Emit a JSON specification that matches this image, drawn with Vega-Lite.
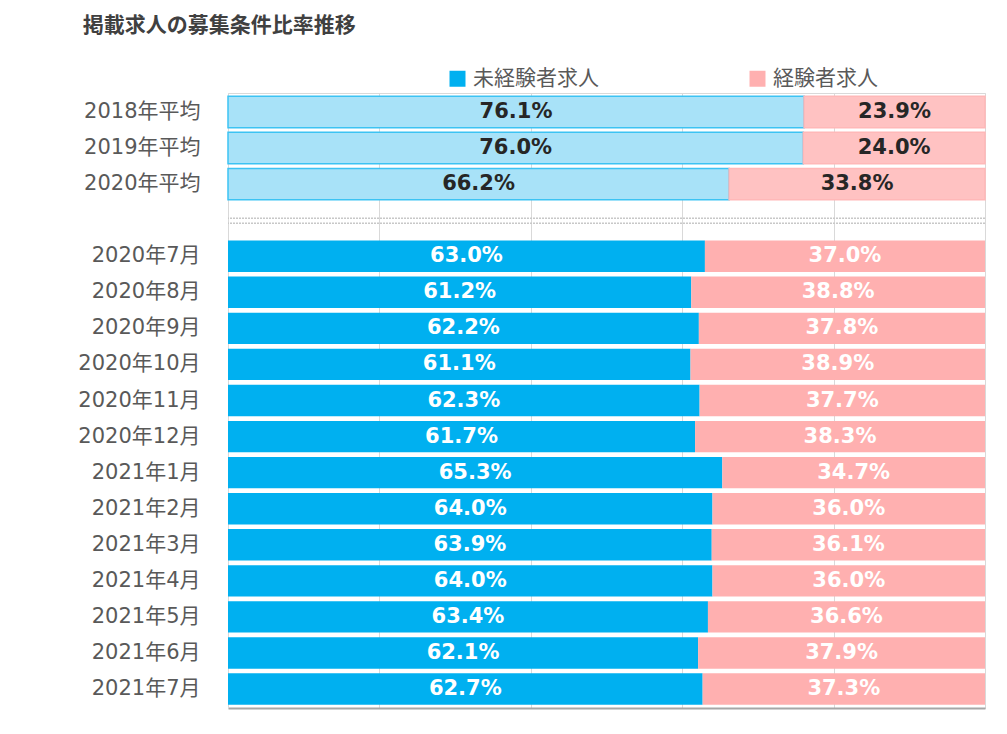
{
  "$schema": "https://vega.github.io/schema/vega-lite/v6.json",
  "width": 757,
  "height": 615,
  "autosize": {"type": "none"},
  "padding": {"left": 228, "top": 93, "right": 22, "bottom": 26},
  "background": "white",
  "title": {
    "text": "掲載求人の募集条件比率推移",
    "anchor": "start",
    "frame": "bounds",
    "fontSize": 21,
    "fontWeight": "bold",
    "color": "#404040",
    "font": "Noto Sans CJK JP",
    "offset": 32,
    "dx": 5
  },
  "config": {
    "font": "DejaVu Sans, Noto Sans CJK JP",
    "view": {"stroke": "#d9d9d9"},
    "legend": {"padding": 0}
  },
  "data": {
    "values": [
      {"period": "2018年平均", "type": "平均", "series": "未経験者求人", "value": 0.761},
      {"period": "2018年平均", "type": "平均", "series": "経験者求人", "value": 0.239},
      {"period": "2019年平均", "type": "平均", "series": "未経験者求人", "value": 0.760},
      {"period": "2019年平均", "type": "平均", "series": "経験者求人", "value": 0.240},
      {"period": "2020年平均", "type": "平均", "series": "未経験者求人", "value": 0.662},
      {"period": "2020年平均", "type": "平均", "series": "経験者求人", "value": 0.338},
      {"period": "2020年7月", "type": "月次", "series": "未経験者求人", "value": 0.630},
      {"period": "2020年7月", "type": "月次", "series": "経験者求人", "value": 0.370},
      {"period": "2020年8月", "type": "月次", "series": "未経験者求人", "value": 0.612},
      {"period": "2020年8月", "type": "月次", "series": "経験者求人", "value": 0.388},
      {"period": "2020年9月", "type": "月次", "series": "未経験者求人", "value": 0.622},
      {"period": "2020年9月", "type": "月次", "series": "経験者求人", "value": 0.378},
      {"period": "2020年10月", "type": "月次", "series": "未経験者求人", "value": 0.611},
      {"period": "2020年10月", "type": "月次", "series": "経験者求人", "value": 0.389},
      {"period": "2020年11月", "type": "月次", "series": "未経験者求人", "value": 0.623},
      {"period": "2020年11月", "type": "月次", "series": "経験者求人", "value": 0.377},
      {"period": "2020年12月", "type": "月次", "series": "未経験者求人", "value": 0.617},
      {"period": "2020年12月", "type": "月次", "series": "経験者求人", "value": 0.383},
      {"period": "2021年1月", "type": "月次", "series": "未経験者求人", "value": 0.653},
      {"period": "2021年1月", "type": "月次", "series": "経験者求人", "value": 0.347},
      {"period": "2021年2月", "type": "月次", "series": "未経験者求人", "value": 0.640},
      {"period": "2021年2月", "type": "月次", "series": "経験者求人", "value": 0.360},
      {"period": "2021年3月", "type": "月次", "series": "未経験者求人", "value": 0.639},
      {"period": "2021年3月", "type": "月次", "series": "経験者求人", "value": 0.361},
      {"period": "2021年4月", "type": "月次", "series": "未経験者求人", "value": 0.640},
      {"period": "2021年4月", "type": "月次", "series": "経験者求人", "value": 0.360},
      {"period": "2021年5月", "type": "月次", "series": "未経験者求人", "value": 0.634},
      {"period": "2021年5月", "type": "月次", "series": "経験者求人", "value": 0.366},
      {"period": "2021年6月", "type": "月次", "series": "未経験者求人", "value": 0.621},
      {"period": "2021年6月", "type": "月次", "series": "経験者求人", "value": 0.379},
      {"period": "2021年7月", "type": "月次", "series": "未経験者求人", "value": 0.627},
      {"period": "2021年7月", "type": "月次", "series": "経験者求人", "value": 0.373}
    ]
  },
  "layer": [
    {
      "transform": [{"filter": "datum.type === '月次'"}],
      "mark": {"type": "bar"},
      "encoding": {
        "y": {
          "field": "period", "type": "nominal",
          "scale": {
            "domain": ["2018年平均", "2019年平均", "2020年平均", " ", "2020年7月", "2020年8月", "2020年9月", "2020年10月", "2020年11月", "2020年12月", "2021年1月", "2021年2月", "2021年3月", "2021年4月", "2021年5月", "2021年6月", "2021年7月"],
            "paddingInner": 0.13, "paddingOuter": 0.09
          },
          "axis": {"title": null, "ticks": false, "labelPadding": 28, "labelFontSize": 21, "labelColor": "#595959", "domainColor": "#d9d9d9", "grid": false}
        },
        "x": {
          "field": "value", "type": "quantitative", "stack": "zero",
          "scale": {"domain": [0, 1], "nice": false, "clamp": true},
          "axis": {"title": null, "labels": false, "ticks": false, "grid": true, "gridColor": "#d9d9d9", "values": [0, 0.2, 0.4, 0.6, 0.8, 1], "domainColor": "#a6a6a6", "domainWidth": 2}
        },
        "color": {
          "field": "series", "type": "nominal",
          "scale": {"domain": ["未経験者求人", "経験者求人"], "range": ["#00B0F0", "#FFB0B0"]},
          "legend": {
            "title": null, "orient": "none", "direction": "horizontal",
            "legendX": 219, "legendY": -25,
            "symbolType": "square", "symbolSize": 256, "symbolStrokeWidth": 0,
            "labelFontSize": 21, "labelColor": "#595959", "labelFont": "Noto Sans CJK JP",
            "labelOffset": 5, "columnPadding": 148
          }
        },
        "order": {"field": "series", "sort": "ascending"}
      }
    },
    {
      "transform": [{"filter": "datum.type === '平均'"}],
      "mark": {"type": "bar", "strokeWidth": 1.5},
      "encoding": {
        "y": {"field": "period", "type": "nominal"},
        "x": {"field": "value", "type": "quantitative", "stack": "zero"},
        "color": {
          "field": "series", "type": "nominal",
          "scale": {"domain": ["未経験者求人", "経験者求人"], "range": ["#A8E2F8", "#FFC2C2"]},
          "legend": null
        },
        "stroke": {
          "field": "series", "type": "nominal",
          "scale": {"domain": ["未経験者求人", "経験者求人"], "range": ["#3CC3F3", "#FFB8B8"]},
          "legend": null
        },
        "order": {"field": "series", "sort": "ascending"}
      }
    },
    {
      "data": {"values": [{"period": " "}]},
      "mark": {"type": "rule", "color": "#c8c8c8", "strokeDash": [2, 1], "strokeWidth": 1.5, "yOffset": -2},
      "encoding": {"y": {"field": "period", "type": "nominal", "bandPosition": 0.5}}
    },
    {
      "data": {"values": [{"period": " "}]},
      "mark": {"type": "rule", "color": "#c8c8c8", "strokeDash": [2, 1], "strokeWidth": 1.5, "yOffset": 3},
      "encoding": {"y": {"field": "period", "type": "nominal", "bandPosition": 0.5}}
    },
    {
      "transform": [{"filter": "datum.type === '平均'"}],
      "mark": {"type": "text", "fontSize": 21, "fontWeight": "bold", "color": "#262626", "baseline": "middle"},
      "encoding": {
        "y": {"field": "period", "type": "nominal"},
        "x": {"field": "value", "type": "quantitative", "stack": "zero", "bandPosition": 0.5},
        "detail": {"field": "series"},
        "order": {"field": "series", "sort": "ascending"},
        "text": {"field": "value", "type": "quantitative", "format": ".1%"}
      }
    },
    {
      "transform": [{"filter": "datum.type === '月次'"}],
      "mark": {"type": "text", "fontSize": 21, "fontWeight": "bold", "color": "#ffffff", "baseline": "middle"},
      "encoding": {
        "y": {"field": "period", "type": "nominal"},
        "x": {"field": "value", "type": "quantitative", "stack": "zero", "bandPosition": 0.5},
        "detail": {"field": "series"},
        "order": {"field": "series", "sort": "ascending"},
        "text": {"field": "value", "type": "quantitative", "format": ".1%"}
      }
    }
  ],
  "resolve": {"scale": {"color": "independent", "stroke": "independent"}}
}
